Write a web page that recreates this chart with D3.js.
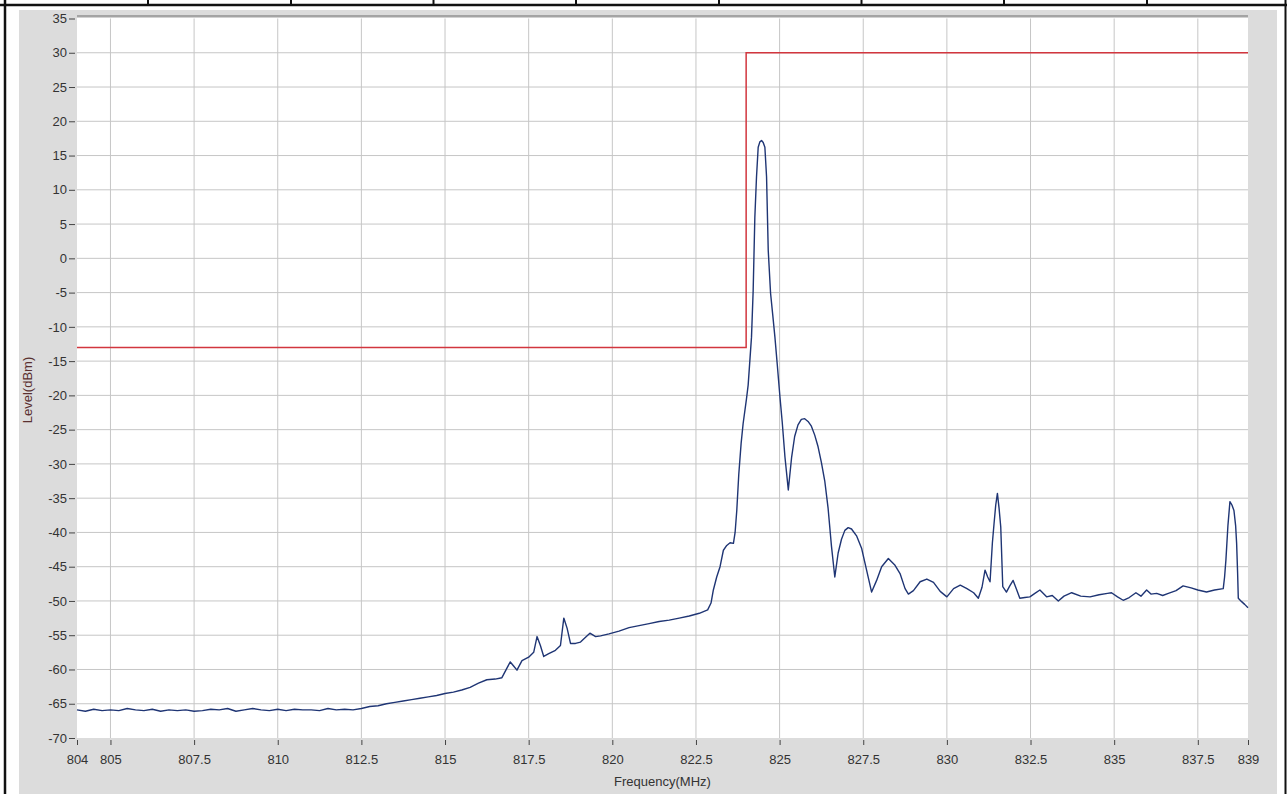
<!DOCTYPE html>
<html>
<head>
<meta charset="utf-8">
<script src="https://cdn.jsdelivr.net/npm/d3@7"></script>
<style>
  body { margin: 0; background: #fff; }
  svg text { font-family: "Liberation Sans", Arial, sans-serif; fill: #333; }
</style>
</head>
<body>
<div id="chart"></div>
<script>
// spectrum trace
const freqMHz = [
  804, 804.25, 804.5, 804.75, 805, 805.25, 805.5, 805.75, 806, 806.25, 806.5, 806.75,
  807, 807.25, 807.5, 807.75, 808, 808.25, 808.5, 808.75, 809, 809.25, 809.5, 809.75,
  810, 810.25, 810.5, 810.75, 811, 811.25, 811.5, 811.75, 812, 812.25, 812.5, 812.75,
  813, 813.25, 813.5, 813.75, 814, 814.25, 814.5, 814.75, 815, 815.25, 815.5, 815.75,
  816, 816.25, 816.5, 816.7, 816.85, 816.95, 817.05, 817.15, 817.3, 817.5, 817.65, 817.75,
  817.85, 817.95, 818.1, 818.3, 818.45, 818.55, 818.65, 818.75, 818.9, 819.05, 819.2, 819.33,
  819.5, 819.65, 819.9, 820.2, 820.5, 820.8, 821.1, 821.4, 821.7, 822, 822.3, 822.6,
  822.85, 822.95, 823.02, 823.12, 823.22, 823.32, 823.42, 823.52, 823.62, 823.67, 823.72, 823.78,
  823.85, 823.91, 824.01, 824.06, 824.11, 824.16, 824.21, 824.26, 824.31, 824.36, 824.41, 824.46,
  824.51, 824.56, 824.61, 824.66, 824.73, 824.8, 824.86, 824.93, 825.01, 825.08, 825.16, 825.26,
  825.36, 825.45, 825.55, 825.65, 825.75, 825.85, 825.95, 826.05, 826.15, 826.25, 826.35, 826.45,
  826.55, 826.65, 826.75, 826.85, 826.95, 827.05, 827.15, 827.3, 827.45, 827.6, 827.75, 827.9,
  828.05, 828.25, 828.45, 828.6, 828.75, 828.85, 829, 829.2, 829.4, 829.6, 829.8, 830,
  830.2, 830.4, 830.6, 830.8, 830.94, 831.05, 831.14, 831.22, 831.29, 831.36, 831.41, 831.46,
  831.51, 831.56, 831.61, 831.67, 831.78, 831.88, 831.98, 832.08, 832.18, 832.33, 832.48, 832.63,
  832.78, 832.98, 833.15, 833.33, 833.5, 833.73, 834, 834.28, 834.55, 834.8, 834.92, 835.1,
  835.27, 835.45, 835.65, 835.8, 835.97, 836.1, 836.27, 836.45, 836.62, 836.85, 837.06, 837.3,
  837.5, 837.76, 838, 838.26, 838.3, 838.34, 838.4, 838.46, 838.52, 838.58, 838.63, 838.66,
  838.69, 838.71, 838.81, 838.9, 839
];
const levelDbm = [
  -65.9, -66.1, -65.8, -66.0, -65.9, -66.0, -65.7, -65.9, -66.0, -65.8, -66.1, -65.9,
  -66.0, -65.9, -66.1, -66.0, -65.8, -65.9, -65.7, -66.1, -65.9, -65.7, -65.9, -66.0,
  -65.8, -66.0, -65.8, -65.9, -65.9, -66.0, -65.7, -65.9, -65.8, -65.9, -65.7, -65.4,
  -65.3, -65.0, -64.8, -64.6, -64.4, -64.2, -64.0, -63.8, -63.5, -63.3, -63.0, -62.6,
  -62.0, -61.5, -61.4, -61.2, -59.8, -58.9, -59.5, -60.1, -58.7, -58.2, -57.5, -55.2,
  -56.5, -58.1, -57.7, -57.2, -56.5, -52.5, -54.0, -56.2, -56.2, -56.0, -55.3, -54.7,
  -55.2, -55.1, -54.8, -54.4, -53.9, -53.6, -53.3, -53.0, -52.8, -52.5, -52.2, -51.8,
  -51.3, -50.3, -48.4, -46.5, -45.0, -42.6, -41.9, -41.5, -41.6, -40.0, -36.8, -31.5,
  -27.0, -24.1, -20.5, -18.5, -15.0, -11.5, -4.7, 6.0, 11.9, 16.2, 17.0, 17.2,
  16.9, 16.2, 11.9, 1.2, -5.1, -8.5, -11.5, -15.5, -20.2, -24.0, -29.0, -33.8,
  -29.0, -26.0, -24.3, -23.5, -23.4, -23.8, -24.5, -25.8, -27.5, -29.8, -32.5, -36.5,
  -42.0, -46.5, -43.0, -41.0, -39.7, -39.3, -39.5, -40.5, -42.3, -45.5, -48.7, -47.0,
  -45.0, -43.8, -44.8, -46.0, -48.2, -49.0, -48.5, -47.2, -46.8, -47.3, -48.6, -49.4,
  -48.2, -47.7, -48.2, -48.8, -49.6, -48.0, -45.5, -46.5, -47.2, -41.5, -38.7, -36.0,
  -34.3, -36.5, -39.2, -47.9, -48.7, -47.8, -47.0, -48.3, -49.6, -49.5, -49.4, -48.9,
  -48.4, -49.4, -49.2, -50.0, -49.3, -48.8, -49.3, -49.4, -49.1, -48.9, -48.8, -49.4,
  -49.9, -49.5, -48.8, -49.3, -48.4, -49.0, -48.9, -49.2, -48.9, -48.5, -47.8, -48.1,
  -48.4, -48.7, -48.4, -48.2, -46.5, -44.0, -39.0, -35.5, -36.0, -36.8, -39.0, -41.6,
  -46.0, -49.6, -50.1, -50.5, -51.0
];

// limit mask
const limitFreq = [804, 824, 824, 839];
const limitLevel = [-13, -13, 30, 30];

const xTicks = [804, 805, 807.5, 810, 812.5, 815, 817.5, 820, 822.5, 825, 827.5, 830, 832.5, 835, 837.5, 839];
const yTicks = [35, 30, 25, 20, 15, 10, 5, 0, -5, -10, -15, -20, -25, -30, -35, -40, -45, -50, -55, -60, -65, -70];
const tableCols = [148, 291, 433.5, 576, 719, 861.5, 1004, 1147];

const W = 1287, H = 794;
const plotLeft = 77, plotRight = 1248, plotTop = 18.5, plotBottom = 738;

const svg = d3.select("#chart").append("svg")
    .attr("width", W)
    .attr("height", H);

// rahmen der tabelle
svg.append("rect").attr("x", 19).attr("y", 10).attr("width", 1258).attr("height", H - 10).attr("fill", "#dcdcdc");
svg.append("line").attr("x1", 0).attr("x2", W).attr("y1", 5).attr("y2", 5).attr("stroke", "#111").attr("stroke-width", 2.5);
svg.append("line").attr("x1", 5).attr("x2", 5).attr("y1", 0).attr("y2", H).attr("stroke", "#111").attr("stroke-width", 2.5);
svg.append("line").attr("x1", 1285.5).attr("x2", 1285.5).attr("y1", 0).attr("y2", H).attr("stroke", "#111").attr("stroke-width", 2);
svg.selectAll(".col").data(tableCols).enter().append("line")
    .attr("x1", d => d).attr("x2", d => d).attr("y1", 0).attr("y2", 5)
    .attr("stroke", "#111").attr("stroke-width", 2);

const x = d3.scaleLinear().domain([804, 839]).range([plotLeft, plotRight]);
const y = d3.scaleLinear().domain([-70, 35]).range([plotBottom, plotTop]);

// plot area
svg.append("rect").attr("x", plotLeft).attr("y", plotTop - 2).attr("width", plotRight - plotLeft).attr("height", plotBottom - plotTop + 2).attr("fill", "#fff");

// grid
svg.append("g").selectAll("line").data(xTicks.filter(d => d > 804 && d < 839)).enter().append("line")
    .attr("x1", d => x(d)).attr("x2", d => x(d)).attr("y1", plotTop).attr("y2", plotBottom)
    .attr("stroke", "#c6c6c6").attr("stroke-width", 1);
svg.append("g").selectAll("line").data(yTicks.filter(d => d > -70 && d < 35)).enter().append("line")
    .attr("x1", plotLeft).attr("x2", plotRight).attr("y1", d => y(d)).attr("y2", d => y(d))
    .attr("stroke", "#c6c6c6").attr("stroke-width", 1);

// obere kante
svg.append("rect").attr("x", plotLeft).attr("y", plotTop - 3.5).attr("width", plotRight - plotLeft).attr("height", 2.5).attr("fill", "#a4a4a4");

// Eje Y
const yAxis = svg.append("g")
    .attr("transform", `translate(${plotLeft - 2}, 0)`)
    .call(d3.axisLeft(y).tickValues(yTicks).tickFormat(d => String(d)).tickSize(6).tickPadding(2));
yAxis.select(".domain").remove();
yAxis.selectAll("line").attr("stroke", "#444");
yAxis.selectAll("text").style("font-size", "13px").attr("fill", "#333");

// Eje X
const xAxis = svg.append("g")
    .attr("transform", `translate(0, ${plotBottom + 2})`)
    .call(d3.axisBottom(x).tickValues(xTicks).tickFormat(d => String(d)).tickSize(5).tickPadding(10));
xAxis.select(".domain").remove();
xAxis.selectAll("line").attr("stroke", "#444");
xAxis.selectAll("text").style("font-size", "13px").attr("fill", "#333");

// limit line
const traceLine = d3.line().x(d => x(d[0])).y(d => y(d[1]));
svg.append("path")
    .datum(limitFreq.map((f, i) => [f, limitLevel[i]]))
    .attr("d", traceLine)
    .attr("fill", "none")
    .attr("stroke", "#d2363e")
    .attr("stroke-width", 1.5);

// spectrum
svg.append("path")
    .datum(freqMHz.map((f, i) => [f, levelDbm[i]]))
    .attr("d", traceLine)
    .attr("fill", "none")
    .attr("stroke", "#1f3574")
    .attr("stroke-width", 1.4)
    .attr("stroke-linejoin", "round");

// axis titles
svg.append("text")
    .attr("x", (plotLeft + plotRight) / 2)
    .attr("y", 786)
    .attr("text-anchor", "middle")
    .style("font-size", "13px")
    .text("Frequency(MHz)");

svg.append("text")
    .attr("transform", "translate(32, 390) rotate(-90)")
    .attr("text-anchor", "middle")
    .style("font-size", "13px")
    .style("fill", "#5a3030")
    .text("Level(dBm)");
</script>
</body>
</html>
